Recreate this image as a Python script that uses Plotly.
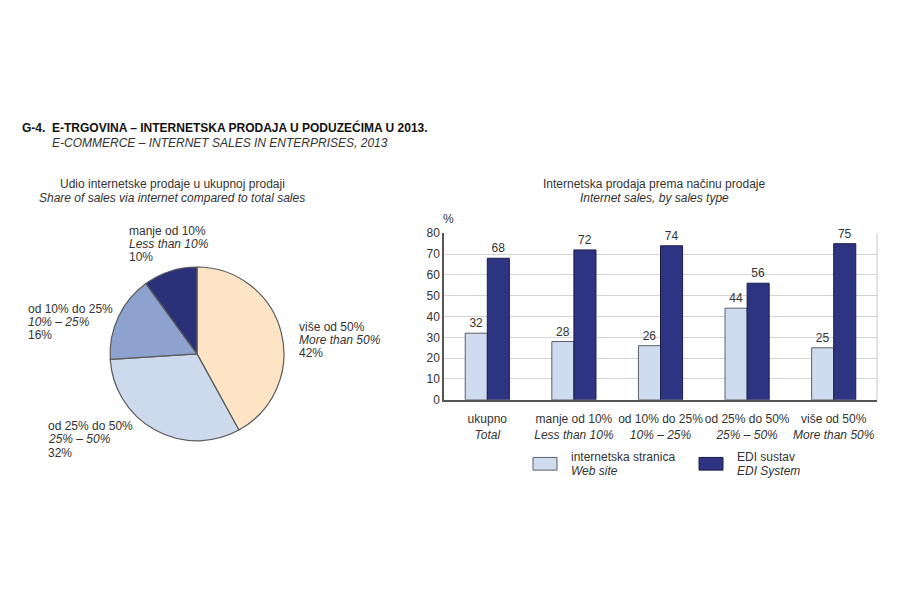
import plotly.graph_objects as go

# ---- data ----
pie_labels = ["više od 50%", "od 25% do 50%", "od 10% do 25%", "manje od 10%"]
pie_labels_en = ["More than 50%", "25% – 50%", "10% – 25%", "Less than 10%"]
pie_values = [42, 32, 16, 10]
pie_colors = ["#fde4c4", "#cdd9ec", "#8ea2cf", "#2b3179"]

bar_cats = ["ukupno", "manje od 10%", "od 10% do 25%", "od 25% do 50%", "više od 50%"]
bar_cats_en = ["Total", "Less than 10%", "10% – 25%", "25% – 50%", "More than 50%"]
web_site = [32, 28, 26, 44, 25]
edi_system = [68, 72, 74, 56, 75]

W, H = 900, 600
OFF = 8  # page body margin
FONT = "Liberation Sans, Arial, sans-serif"
TXT = "#333333"

def px(x):
    return (x - OFF) / W

def py(y):
    return 1 - (y - OFF) / H

fig = go.Figure()

fig.add_trace(go.Pie(
    labels=pie_labels, values=pie_values, sort=False, direction="clockwise",
    rotation=0, marker=dict(colors=pie_colors, line=dict(color="#5a5a5a", width=1.2)),
    textinfo="none", hoverinfo="label+percent", showlegend=False,
    domain=dict(x=[px(108), px(286)], y=[py(444), py(266)]),
))

ticktext = [f"{a}<br><i>{b}</i>" for a, b in zip(bar_cats, bar_cats_en)]

fig.add_trace(go.Bar(
    x=bar_cats, y=web_site, name="internetska stranica",
    marker=dict(color="#cfdcef", line=dict(color="#5a5f6a", width=1)),
    text=web_site, textposition="outside", textfont=dict(size=12, color=TXT, family=FONT),
    cliponaxis=False, showlegend=False,
))
fig.add_trace(go.Bar(
    x=bar_cats, y=edi_system, name="EDI sustav",
    marker=dict(color="#2d3482", line=dict(color="#1c1f4a", width=1)),
    text=edi_system, textposition="outside", textfont=dict(size=12, color=TXT, family=FONT),
    cliponaxis=False, showlegend=False,
))

fig.update_layout(
    width=W, height=H, margin=dict(l=0, r=0, t=0, b=0),
    paper_bgcolor="white", plot_bgcolor="white",
    font=dict(family=FONT, size=12, color=TXT),
    barmode="group", bargap=0.49, bargroupgap=0,
    xaxis=dict(domain=[px(444), px(877)], tickmode="array", tickvals=bar_cats, ticktext=ticktext,
               tickangle=0, showgrid=False, showline=True, linecolor="#555555", linewidth=1.5,
               ticks="", ticklabelstandoff=7, tickfont=dict(size=12, color=TXT), fixedrange=True),
    yaxis=dict(domain=[py(402), py(231.5)], range=[0, 80], dtick=10, showgrid=True,
               gridcolor="#d4d4d4", gridwidth=1, showline=True, linecolor="#555555", linewidth=1.5,
               ticks="", tickfont=dict(size=12, color=TXT), zeroline=False, fixedrange=True),
)

# right border of bar plot
fig.add_shape(type="line", xref="x domain", yref="y domain", x0=1, x1=1, y0=0, y1=1,
              line=dict(color="#c8c8c8", width=1))

ann = []
def text(x, y, s, size=12, xanchor="left", bold=False, italic=False):
    if italic:
        s = f"<i>{s}</i>"
    if bold:
        s = f"<b>{s}</b>"
    ann.append(dict(x=px(x), y=py(y), xref="paper", yref="paper", text=s, showarrow=False,
                    xanchor=xanchor, yanchor="middle",
                    font=dict(size=size, color=TXT if not bold else "#111111", family=FONT)))

# main titles
text(20, 123, "G-4.  E-TRGOVINA – INTERNETSKA PRODAJA U PODUZEĆIMA U 2013.", size=12, bold=True)
text(50, 139, "E-COMMERCE – INTERNET SALES IN ENTERPRISES, 2013", size=12, italic=True)

# pie title
text(172, 181, "Udio internetske prodaje u ukupnoj prodaji", xanchor="center")
text(172, 195, "Share of sales via internet compared to total sales", xanchor="center", italic=True)

# pie labels
pie_pos = {0: (297, 327), 1: (46, 429), 2: (26, 309), 3: (127, 229)}
for i, (x, y) in pie_pos.items():
    text(x, y, pie_labels[i])
    text(x, y + 13.5, pie_labels_en[i], italic=True)
    text(x, y + 27, f"{pie_values[i]}%")

# bar title
text(654, 181, "Internetska prodaja prema načinu prodaje", xanchor="center")
text(654, 195, "Internet sales, by sales type", xanchor="center", italic=True)
text(448, 217, "%", xanchor="center")

# legend
fig.add_shape(type="rect", xref="paper", yref="paper", x0=px(533), x1=px(557), y0=py(474), y1=py(461),
              fillcolor="#cfdcef", line=dict(color="#5a5f6a", width=1))
fig.add_shape(type="rect", xref="paper", yref="paper", x0=px(699), x1=px(723), y0=py(474), y1=py(461),
              fillcolor="#2d3482", line=dict(color="#1c1f4a", width=1))
text(569, 461, "internetska stranica")
text(569, 475, "Web site", italic=True)
text(735, 461, "EDI sustav")
text(735, 475, "EDI System", italic=True)

fig.update_layout(annotations=ann)
fig.write_html("out.html")
